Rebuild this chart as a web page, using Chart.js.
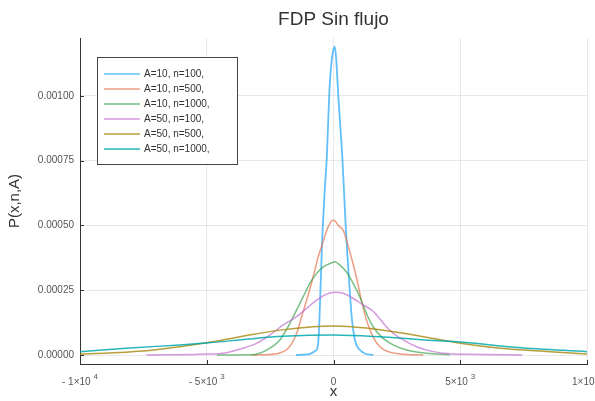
<!DOCTYPE html>
<html><head><meta charset="utf-8">
<script src="https://cdn.jsdelivr.net/npm/chart.js@4"></script>
<style>html,body{margin:0;padding:0;background:#fff;}#wrap{width:595px;height:401px;position:relative;}</style>
</head><body><div id="wrap"><canvas id="c" width="595" height="401"></canvas></div>
<script>
const seriesLabels = ["A=10, n=100,", "A=10, n=500,", "A=10, n=1000,", "A=50, n=100,", "A=50, n=500,", "A=50, n=1000,"];

const s1X = [-1480, -1200, -930, -730, -640, -580, -540, -500, -460, -420, -350, -260, -170, -90, 0, 50, 100, 190, 270, 350, 420, 480, 545, 640, 730, 840, 950, 1040, 1230, 1560];
const s1Y = [0, 0.000001, 0.000004, 0.000015, 0.000025, 0.00008, 0.00018, 0.00029, 0.00041, 0.0005, 0.00063, 0.00077, 0.001, 0.00112, 0.00118, 0.00119, 0.00115, 0.001, 0.00088, 0.00076, 0.00062, 0.0005, 0.00039, 0.00025, 0.000135, 0.00006, 0.00003, 0.00002, 0.000006, 0];

const s2X = [-3240, -2800, -2250, -1790, -1450, -1255, -1060, -800, -600, -400, -270, -130, -30, 80, 190, 390, 520, 640, 900, 1100, 1300, 1560, 1830, 2160, 2620, 3540];
const s2Y = [0, 0.000001, 0.000005, 0.000026, 0.000084, 0.000148, 0.000212, 0.000302, 0.00038, 0.00044, 0.00048, 0.00051, 0.00052, 0.000515, 0.0005, 0.00048, 0.00044, 0.0004, 0.000302, 0.000212, 0.000135, 0.00007, 0.000032, 0.000013, 0.000004, 0];

const s3X = [-4600, -3234, -2640, -2115, -1720, -1455, -1194, -929, -664, -403, -71, 59, 245, 506, 771, 1036, 1297, 1561, 1957, 2352, 2878, 3668, 4593];
const s3Y = [0, 0.000001, 0.000019, 0.000058, 0.000122, 0.000174, 0.000225, 0.000277, 0.000315, 0.00034, 0.000356, 0.00036, 0.000347, 0.000321, 0.000277, 0.000225, 0.000161, 0.000109, 0.000064, 0.000039, 0.000019, 0.000007, 0.000001];

const s4X = [-7384, -5277, -4222, -3566, -3036, -2510, -1984, -1455, -1059, -664, -269, 59, 376, 771, 1166, 1494, 1759, 2024, 2352, 2747, 3273, 3933, 4593, 5250, 7440];
const s4Y = [0, 0.000003, 0.000009, 0.000026, 0.000045, 0.000077, 0.000116, 0.000148, 0.00018, 0.000212, 0.000235, 0.000242, 0.000238, 0.000219, 0.000193, 0.000174, 0.000148, 0.000116, 0.000084, 0.000058, 0.000032, 0.000013, 0.000005, 0.000003, 0];

const s5X = [-10000, -8175, -7000, -6070, -4770, -3430, -2115, -810, 0, 1297, 2630, 3933, 5000, 6580, 8560, 10000];
const s5Y = [0.000004, 0.000011, 0.00002, 0.000032, 0.000051, 0.000075, 0.000096, 0.000109, 0.000112, 0.000104, 0.000086, 0.000064, 0.000045, 0.000026, 0.000013, 0.000004];

const s6X = [-10000, -8175, -6070, -5015, -3300, -1985, 0, 1957, 3933, 5000, 7240, 10000];
const s6Y = [0.000013, 0.000026, 0.000039, 0.000046, 0.000062, 0.000072, 0.000077, 0.000069, 0.000056, 0.00005, 0.000029, 0.000013];

const yTicks = [0, 0.00025, 0.0005, 0.00075, 0.001];
const yTickLabels = ["0.00000", "0.00025", "0.00050", "0.00075", "0.00100"];
const xTicks = [-10000, -5000, 0, 5000, 10000];
const xTickBase = ["- 1×10", "- 5×10", "0", "5×10", "1×10"];
const xTickExp = ["4", "3", "", "3", "4"];

const titleText = "FDP Sin flujo";
const xTitle = "x";
const yTitle = "P(x,n,A)";

const colors = ["rgba(0,154,250,0.62)", "rgba(227,111,71,0.68)", "rgba(62,164,78,0.7)", "rgba(195,113,210,0.72)", "rgba(172,141,24,0.85)", "rgba(0,169,173,0.85)"];
const FONT = "'Liberation Sans', Arial, Helvetica, sans-serif";
Chart.defaults.font.family = FONT;

const allX = [s1X, s2X, s3X, s4X, s5X, s6X];
const allY = [s1Y, s2Y, s3Y, s4Y, s5Y, s6Y];

const datasets = allX.map((xs, i) => ({
  label: seriesLabels[i],
  data: xs.map((x, j) => ({x: x, y: allY[i][j]})),
  borderColor: colors[i],
  backgroundColor: colors[i],
  borderWidth: i === 0 ? 1.8 : 1.5,
  pointRadius: 0,
  fill: false,
  cubicInterpolationMode: 'monotone',
  order: 5 - i
}));

const deco = {
  id: 'deco',
  afterDraw(chart) {
    const c = chart.ctx;
    const a = chart.chartArea;
    const xs = chart.scales.x, ys = chart.scales.y;
    c.save();
    c.strokeStyle = '#333';
    c.lineWidth = 1;
    xTicks.forEach(v => {
      const px = Math.round(xs.getPixelForValue(v)) + 0.5;
      c.beginPath(); c.moveTo(px, a.bottom); c.lineTo(px, a.bottom - 4); c.stroke();
    });
    yTicks.forEach(v => {
      const py = Math.round(ys.getPixelForValue(v)) + 0.5;
      c.beginPath(); c.moveTo(a.left, py); c.lineTo(a.left + 4, py); c.stroke();
    });
    c.fillStyle = '#555';
    c.textBaseline = 'alphabetic';
    xTicks.forEach((v, i) => {
      const px = xs.getPixelForValue(v);
      c.font = '10px ' + FONT;
      const wb = c.measureText(xTickBase[i]).width;
      c.font = '8px ' + FONT;
      const we = xTickExp[i] ? c.measureText(xTickExp[i]).width + 3 : 0;
      const x0 = px - (wb + we) / 2;
      c.font = '10px ' + FONT;
      c.textAlign = 'left';
      c.fillText(xTickBase[i], x0, a.bottom + 21);
      if (xTickExp[i]) {
        c.font = '8px ' + FONT;
        c.fillText(xTickExp[i], x0 + wb + 3, a.bottom + 15);
      }
    });
    c.fillStyle = '#333';
    c.font = '15px ' + FONT;
    c.textAlign = 'center';
    c.textBaseline = 'middle';
    c.fillText(xTitle, (a.left + a.right) / 2, 392);
    c.save();
    c.translate(15, (a.top + a.bottom) / 2);
    c.rotate(-Math.PI / 2);
    c.fillText(yTitle, 0, 0);
    c.restore();
    c.font = '19px ' + FONT;
    c.fillText(titleText, (a.left + a.right) / 2, 20);
    const lx = a.left + 17, ly = a.top + 19, lw = 140, lh = 107;
    c.fillStyle = '#fff';
    c.fillRect(lx, ly, lw, lh);
    c.strokeStyle = '#444';
    c.lineWidth = 1;
    c.strokeRect(lx + 0.5, ly + 0.5, lw, lh);
    c.font = '10px ' + FONT;
    c.textAlign = 'left';
    seriesLabels.forEach((lab, i) => {
      const yy = ly + 17 + i * 15;
      c.strokeStyle = colors[i];
      c.lineWidth = 1.5;
      c.beginPath(); c.moveTo(lx + 7, yy); c.lineTo(lx + 43, yy); c.stroke();
      c.fillStyle = '#333';
      c.fillText(lab, lx + 47, yy);
    });
    c.restore();
  }
};

new Chart(document.getElementById('c').getContext('2d'), {
  type: 'line',
  data: {datasets: datasets},
  options: {
    responsive: false,
    animation: false,
    layout: {padding: {top: 38, right: 8, left: 0, bottom: 0}},
    plugins: {legend: {display: false}, tooltip: {enabled: false}, title: {display: false}},
    scales: {
      x: {
        type: 'linear', min: -10000, max: 10000,
        afterBuildTicks: s => { s.ticks = xTicks.map(v => ({value: v})); },
        afterFit: s => { s.height = 37; },
        ticks: {display: false},
        grid: {color: 'rgba(0,0,0,0.09)', drawTicks: false, lineWidth: 1},
        border: {color: '#333', width: 1}
      },
      y: {
        type: 'linear', min: -0.0000347, max: 0.001223,
        afterBuildTicks: s => { s.ticks = yTicks.map(v => ({value: v})); },
        afterFit: s => { s.width = 80; },
        ticks: {callback: (v, i) => yTickLabels[i], font: {size: 10}, color: '#555', padding: 6},
        grid: {color: 'rgba(0,0,0,0.09)', drawTicks: false, lineWidth: 1},
        border: {color: '#333', width: 1}
      }
    }
  },
  plugins: [deco]
});
</script>
</body></html>
